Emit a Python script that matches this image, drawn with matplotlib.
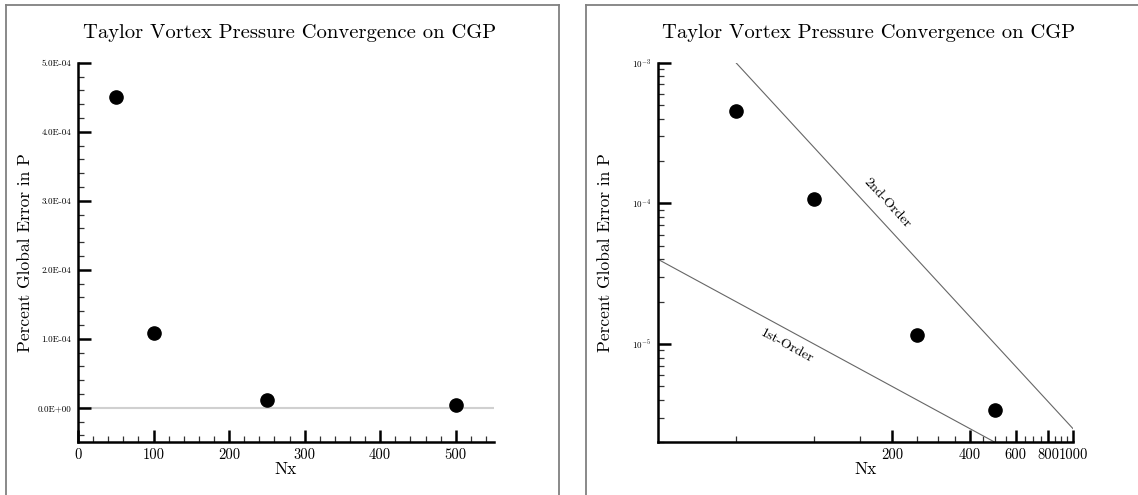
import numpy as np
import matplotlib
matplotlib.use("Agg")
import matplotlib.pyplot as plt
from matplotlib.lines import Line2D
from matplotlib.ticker import FixedLocator, MultipleLocator, NullFormatter, FixedFormatter

plt.rcParams['font.family'] = 'cmr10'
plt.rcParams['mathtext.fontset'] = 'cm'
plt.rcParams['axes.unicode_minus'] = False

# Grid resolution and percent global pressure error
nx = [50, 100, 250, 500]
err = [4.5e-4, 1.08e-4, 1.15e-5, 3.4e-6]

title = "Taylor Vortex Pressure Convergence on CGP"
xlabel = "Nx"
ylabel = "Percent Global Error in P"

lin_yticks = [0.0, 1e-4, 2e-4, 3e-4, 4e-4, 5e-4]
lin_yticklabels = ["0.0E+00", "1.0E-04", "2.0E-04", "3.0E-04", "4.0E-04", "5.0E-04"]
lin_xticks = [0, 100, 200, 300, 400, 500]

log_xticks = [200, 400, 600, 800, 1000]
log_xminor = [50, 100, 150, 250, 300, 350, 450, 500, 550, 650, 700, 750, 850, 900, 950]
log_yticks = [1e-5, 1e-4, 1e-3]
log_yticklabels = [r"$10^{-5}$", r"$10^{-4}$", r"$10^{-3}$"]

# Reference slopes: E = c / N^p
first_order_c = 1e-3
second_order_c = 2.5
first_order_range = [25, 1000]
second_order_range = [50, 1000]

W, H = 1138, 495
fig = plt.figure(figsize=(W / 100, H / 100), dpi=100)


def fx(px):
    return px / W


def fy(py):
    return 1 - py / H


# Panel frames
frame_kw = dict(color="#808080", lw=1.3, transform=fig.transFigure)
for x0, x1 in [(5.5, 559.3), (586.3, W + 5)]:
    fig.add_artist(Line2D([fx(x0), fx(x0)], [fy(4.5), fy(H + 5)], **frame_kw))
    fig.add_artist(Line2D([fx(x0), fx(x1)], [fy(4.5), fy(4.5)], **frame_kw))
    fig.add_artist(Line2D([fx(x1), fx(x1)], [fy(4.5), fy(H + 5)], **frame_kw))

ax_top, ax_bot = 62.7, 442.3
ax1 = fig.add_axes([fx(78), fy(ax_bot), fx(493.5 - 78), (ax_bot - ax_top) / H])
ax2 = fig.add_axes([fx(658), fy(ax_bot), fx(1073 - 658), (ax_bot - ax_top) / H])


def style(ax, width_px, ylab_size):
    for s in ["top", "right"]:
        ax.spines[s].set_visible(False)
    for s in ["left", "bottom"]:
        ax.spines[s].set_linewidth(1.8)
    ax.tick_params(which="major", direction="in", length=9, width=1.8, color="black")
    ax.tick_params(which="minor", direction="in", length=4.5, width=0.9, color="#333333")
    ax.tick_params(axis="x", which="both", pad=4, labelsize=10.5)
    ax.tick_params(axis="y", which="both", pad=5, labelsize=ylab_size)
    ax.set_xlabel(xlabel, fontsize=12.5, labelpad=0)
    ax.set_ylabel(ylabel, fontsize=12.5)
    ax.yaxis.label.set_va("center")
    ax.yaxis.set_label_coords(-53 / width_px, 0.5)


# Linear panel
style(ax1, 415.5, 6.5)
ax1.axhline(0.0, color="#d0d0d0", lw=1.5, zorder=0)
ax1.plot(nx, err, "o", color="black", ms=9.5, clip_on=False)
ax1.set_xlim(0, 550)
ax1.set_ylim(-0.5e-4, 5e-4)
ax1.xaxis.set_major_locator(FixedLocator(lin_xticks))
ax1.xaxis.set_minor_locator(MultipleLocator(20))
ax1.yaxis.set_major_locator(FixedLocator(lin_yticks))
ax1.yaxis.set_major_formatter(FixedFormatter(lin_yticklabels))
ax1.yaxis.set_minor_locator(MultipleLocator(0.2e-4))
ax1.set_xticklabels([str(t) for t in lin_xticks])

# Log panel
style(ax2, 415, 6.5)
ax2.set_xscale("log")
ax2.set_yscale("log")
ax2.set_xlim(25, 1000)
ax2.set_ylim(2e-6, 1e-3)
ax2.xaxis.set_major_locator(FixedLocator(log_xticks))
ax2.xaxis.set_major_formatter(FixedFormatter([str(t) for t in log_xticks]))
ax2.xaxis.set_minor_locator(FixedLocator(log_xminor))
ax2.xaxis.set_minor_formatter(NullFormatter())
ax2.yaxis.set_major_locator(FixedLocator(log_yticks))
ax2.yaxis.set_major_formatter(FixedFormatter(log_yticklabels))

n1 = np.array(first_order_range, dtype=float)
n2 = np.array(second_order_range, dtype=float)
ax2.plot(n1, first_order_c / n1, color="#666666", lw=0.8)
ax2.plot(n2, second_order_c / n2 ** 2, color="#666666", lw=0.8)
ax2.plot(nx, err, "o", color="black", ms=9.5, clip_on=False)


def slope_angle(ax, xs, ys):
    p = ax.transData.transform(np.column_stack([xs, ys]))
    d = p[1] - p[0]
    return np.degrees(np.arctan2(d[1], d[0]))


a1 = slope_angle(ax2, n1, first_order_c / n1)
a2 = slope_angle(ax2, n2, second_order_c / n2 ** 2)
ax2.text(78.5, 9.6e-6, "1st-Order", rotation=a1, ha="center", va="center",
         rotation_mode="anchor", fontsize=10)
ax2.text(191, 1.0e-4, "2nd-Order", rotation=a2, ha="center", va="center",
         rotation_mode="anchor", fontsize=10)

# Titles
fig.text(fx(290), fy(33), title, ha="center", va="center", fontsize=14.8)
fig.text(fx(869), fy(33), title, ha="center", va="center", fontsize=14.8)

fig.savefig("out.png", dpi=100)
